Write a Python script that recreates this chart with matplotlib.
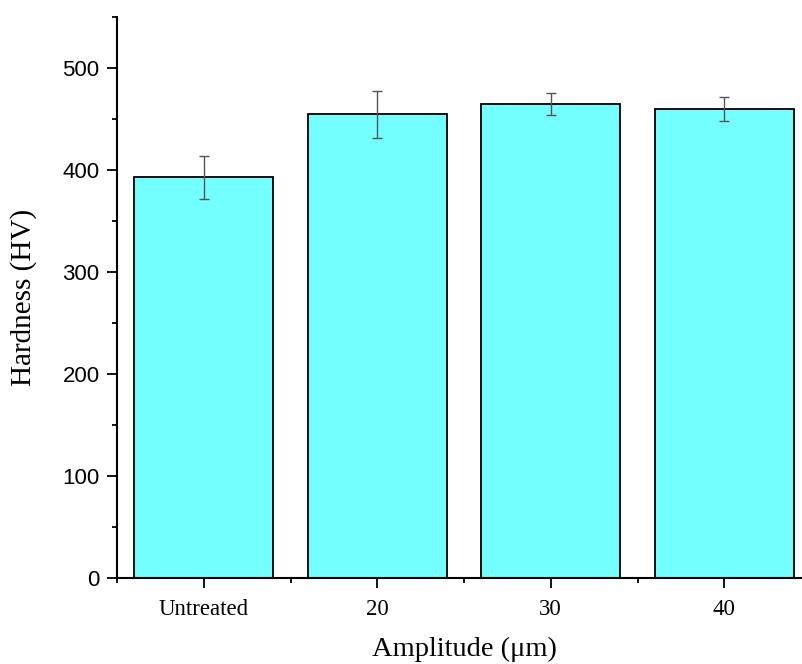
import numpy as np
import matplotlib
matplotlib.use("Agg")
import matplotlib.pyplot as plt
from matplotlib.ticker import MultipleLocator, FixedLocator

# data
categories = ["Untreated", "20", "30", "40"]
hardness = [393, 455, 465, 460]
hardness_err = [21, 23, 11, 12]

fig = plt.figure(figsize=(8.02, 6.64), dpi=100)
# axes run a little past the right edge, like the cropped original
ax = fig.add_axes([117 / 802, 1 - 577.7 / 664, 694 / 802, (577.7 - 17.3) / 664])

x = np.arange(len(categories))
ax.bar(x, hardness, width=0.8, color="#73ffff", edgecolor="black", linewidth=1.3,
       zorder=2)
ax.errorbar(x, hardness, yerr=hardness_err, fmt="none", ecolor="#555555",
            elinewidth=1.0, capsize=3.6, capthick=1.0, zorder=3)

ax.set_xlim(-0.5, 3.5)
ax.set_ylim(0, 550)

# only left and bottom spines
for side in ("top", "right"):
    ax.spines[side].set_visible(False)
for side in ("left", "bottom"):
    ax.spines[side].set_linewidth(1.5)

ax.yaxis.set_major_locator(MultipleLocator(100))
ax.yaxis.set_minor_locator(MultipleLocator(50))
ax.set_xticks(x)
ax.set_xticklabels(categories, family="Liberation Serif", fontsize=16.5)
ax.xaxis.set_minor_locator(FixedLocator([-0.5, 0.5, 1.5, 2.5]))

ax.tick_params(axis="both", which="major", direction="out", length=7.5, width=1.3)
ax.tick_params(axis="both", which="minor", direction="out", length=3.5, width=1.3)
ax.tick_params(axis="y", labelsize=16, pad=5)
ax.tick_params(axis="x", pad=8)
for lbl in ax.get_yticklabels():
    lbl.set_family("Liberation Sans")

ax.set_ylabel("Hardness (HV)", family="Liberation Serif", fontsize=21)
ax.set_xlabel("Amplitude (\u03bcm)", family="Liberation Serif", fontsize=20.5)
# centre the x label under the visible part of the axis
ax.xaxis.set_label_coords((464 - 117) / 694, -0.105)
ax.yaxis.set_label_coords(-0.115, 0.5)

fig.savefig("out.png", dpi=100)
